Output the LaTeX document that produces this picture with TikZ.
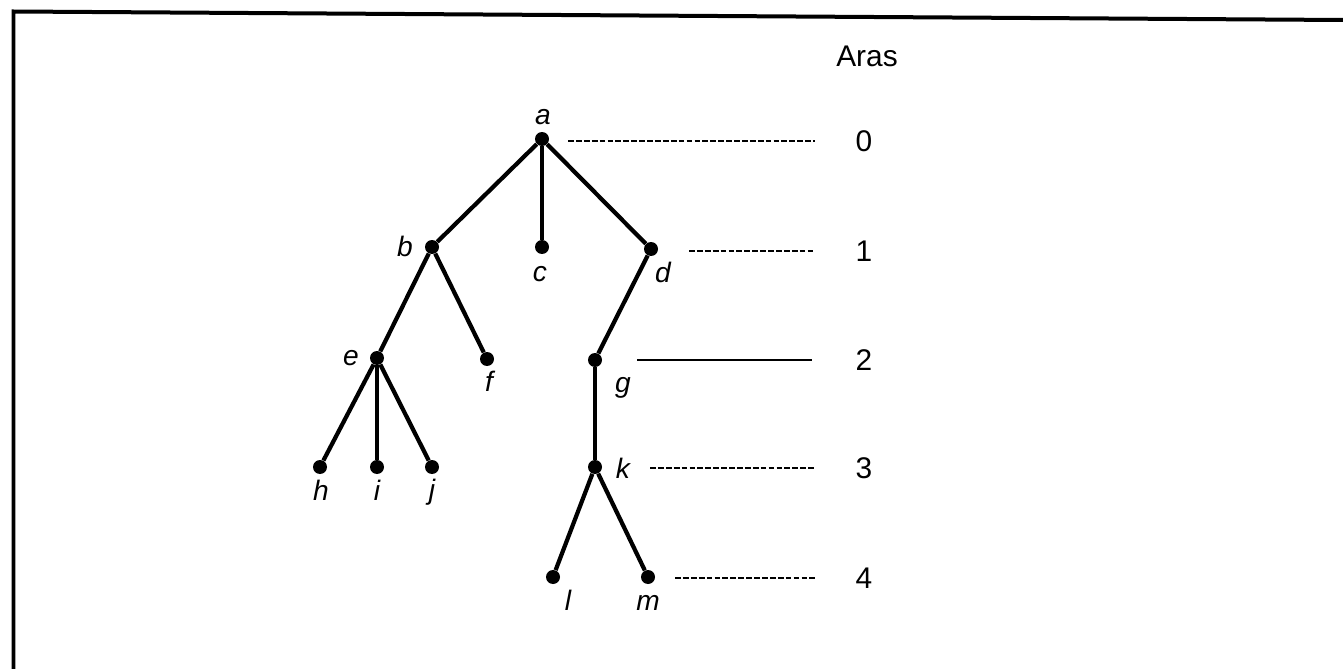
\documentclass[tikz,border=0pt]{standalone}
\usepackage{fontspec}
\setmainfont{Liberation Sans}
\usetikzlibrary{positioning}
\tikzset{
    vertex/.style={circle, fill, inner sep=0pt, minimum size=2.8mm},
    edge/.style={draw, line width=2.4pt},
    levelline/.style={draw, line width=1.4pt, dash pattern=on 3.3pt off 1.2pt},
    vname/.style={inner sep=0pt, font=\fontsize{16}{18}\selectfont\itshape},
    depth/.style={inner sep=0pt, font=\fontsize{17}{19}\selectfont}
}

\begin{document}
\begin{tikzpicture}[x=0.02cm, y=-0.02cm]
    \useasboundingbox (0,0) rectangle (1343,669);
    % frame
    \draw[line width=0.08cm] (13.5,669) -- (13.5,11.5) -- (1343,20);

    % Nodes
    \node[vertex] (a) at (542,139) {};
    \node[vertex] (b) at (432,247) {};
    \node[vertex] (c) at (542,247) {};
    \node[vertex] (d) at (651,249) {};
    \node[vertex] (e) at (377,358) {};
    \node[vertex] (f) at (487,359) {};
    \node[vertex] (g) at (595,360) {};
    \node[vertex] (h) at (320,467) {};
    \node[vertex] (i) at (377,467) {};
    \node[vertex] (j) at (432,467) {};
    \node[vertex] (k) at (595,467) {};
    \node[vertex] (l) at (553,577) {};
    \node[vertex] (m) at (648,577) {};

    % names
    \node[vname] (na) at (543,117) {a};
    \node[vname] (nb) at (405,246) {b};
    \node[vname] (nc) at (540,274) {c};
    \node[vname] (nd) at (663,272) {d};
    \node[vname] (ne) at (351,358) {e};
    \node[vname] (nf) at (489,381) {f};
    \node[vname] (ng) at (623,388) {g};
    \node[vname] (nh) at (321,490) {h};
    \node[vname] (ni) at (377,490) {i};
    \node[vname] (nj) at (432,492) {j};
    \node[vname] (nk) at (623,468) {k};
    \node[vname] (nl) at (568,600) {l};
    \node[vname] (nm) at (648,603) {m};

    % edges
    \draw[edge] (a) -- (b);
    \draw[edge] (a) -- (c);
    \draw[edge] (a) -- (d);
    \draw[edge] (b) -- (e);
    \draw[edge] (b) -- (f);
    \draw[edge] (d) -- (g);
    \draw[edge] (e) -- (h);
    \draw[edge] (e) -- (i);
    \draw[edge] (e) -- (j);
    \draw[edge] (g) -- (k);
    \draw[edge] (k) -- (l);
    \draw[edge] (k) -- (m);

    % levels
    \node[depth] (aras) at (867,56) {Aras};
    \node[depth] (lv0) at (864,141) {0};
    \node[depth] (lv1) at (864,251) {1};
    \node[depth] (lv2) at (864,360) {2};
    \node[depth] (lv3) at (864,468) {3};
    \node[depth] (lv4) at (864,578) {4};

    \coordinate (s0) at (568,141);  \coordinate (t0) at (815,141);
    \coordinate (s1) at (689,251);  \coordinate (t1) at (815,251);
    \coordinate (s2) at (637,360);  \coordinate (t2) at (812,360);
    \coordinate (s3) at (650,468);  \coordinate (t3) at (815,468);
    \coordinate (s4) at (675,578);  \coordinate (t4) at (815,578);

    \draw[levelline] (s0) -- (t0);
    \draw[levelline] (s1) -- (t1);
    \draw[line width=1.4pt] (s2) -- (t2);
    \draw[levelline] (s3) -- (t3);
    \draw[levelline] (s4) -- (t4);
\end{tikzpicture}
\end{document}
